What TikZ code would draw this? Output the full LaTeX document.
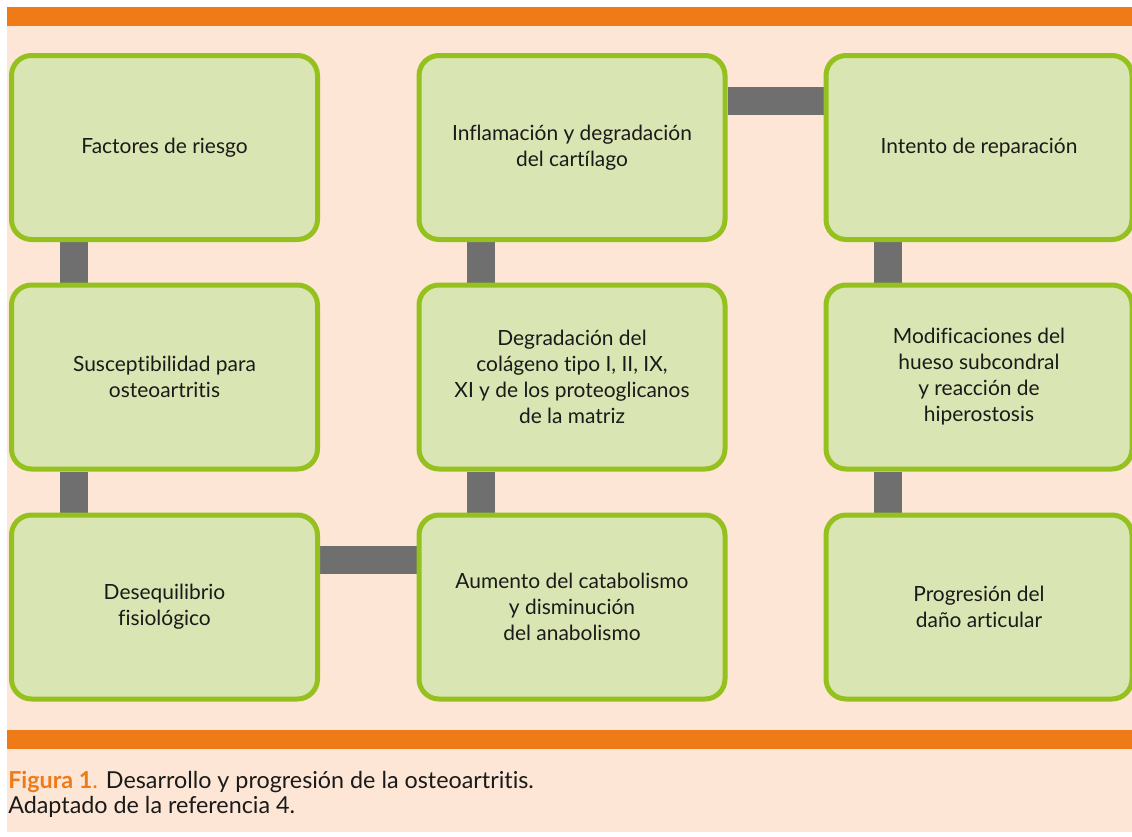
\documentclass[tikz,border=0pt]{standalone}
\usepackage{fontspec}
\setmainfont{Lato}[Ligatures=NoCommon]
\usetikzlibrary{backgrounds}
\definecolor{peach}{HTML}{FDE6D5}
\definecolor{barorange}{HTML}{EE7A18}
\definecolor{boxfill}{HTML}{D9E5B2}
\definecolor{leaf}{HTML}{95C11F}
\definecolor{linkgray}{HTML}{6F6F6F}
\definecolor{ink}{HTML}{1A1A1A}

\begin{document}
\begin{tikzpicture}[x=0.75pt,y=-0.75pt,
  box/.style={rectangle,rounded corners=15pt,draw=leaf,line width=3.75pt,fill=boxfill,
    minimum width=229.5pt,minimum height=138pt,align=center,text=ink,
    font=\fontsize{15.7}{19.5}\selectfont},
  link/.style={draw=linkgray,line width=21pt}]
\useasboundingbox (0,0) rectangle (1132,836);

\node[box] at (164.5,147.5) (f1) {Factores de riesgo};
\node[box] at (164.5,377) (f2) {Susceptibilidad para\\osteoartritis};
\node[box] at (164.5,607) (f3) {Desequilibrio\\fisiológico};
\node[box] at (572,147.5) (g1) {Inflamación y degradación\\del cartílago};
\node[box] at (572,377) (g2) {Degradación del\\colágeno tipo I, II, IX,\\XI y de los proteoglicanos\\de la matriz};
\node[box] at (572,607) (g3) {Aumento del catabolismo\\y disminución\\del anabolismo};
\node[box] at (979,147.5) (h1) {Intento de reparación};
\node[box] at (979,377) (h2) {Modificaciones del\\hueso subcondral\\y reacción de\\hiperostosis};
\node[box] at (979,607) (h3) {Progresión del\\daño articular};

\node[anchor=base west,inner sep=0pt,text=ink,font=\fontsize{17.5}{20}\selectfont] at (8,788) (cap1)
  {\textcolor{barorange}{\bfseries Figura 1}\textcolor{barorange}{.} Desarrollo y progresión de la osteoartritis.};
\node[anchor=base west,inner sep=0pt,text=ink,font=\fontsize{17.5}{20}\selectfont] at (8,813) (cap2)
  {Adaptado de la referencia 4.};

\begin{scope}[on background layer]
\fill[white] (0,0) rectangle (1132,836);
\fill[peach] (7,7) rectangle (1132,832);
\fill[barorange] (7,7) rectangle (1132,26);
\fill[barorange] (7,730) rectangle (1132,749);
\draw[link] ([xshift=-68pt]f1.south) -- ([xshift=-68pt]f2.north);
\draw[link] ([xshift=-68pt]f2.south) -- ([xshift=-68pt]f3.north);
\draw[link] ([yshift=35pt]f3.east) -- ([yshift=35pt]g3.west);
\draw[link] ([xshift=-68pt]g3.north) -- ([xshift=-68pt]g2.south);
\draw[link] ([xshift=-68pt]g2.north) -- ([xshift=-68pt]g1.south);
\draw[link] ([yshift=35pt]g1.east) -- ([yshift=35pt]h1.west);
\draw[link] ([xshift=-68pt]h1.south) -- ([xshift=-68pt]h2.north);
\draw[link] ([xshift=-68pt]h2.south) -- ([xshift=-68pt]h3.north);
\end{scope}
\end{tikzpicture}
\end{document}
